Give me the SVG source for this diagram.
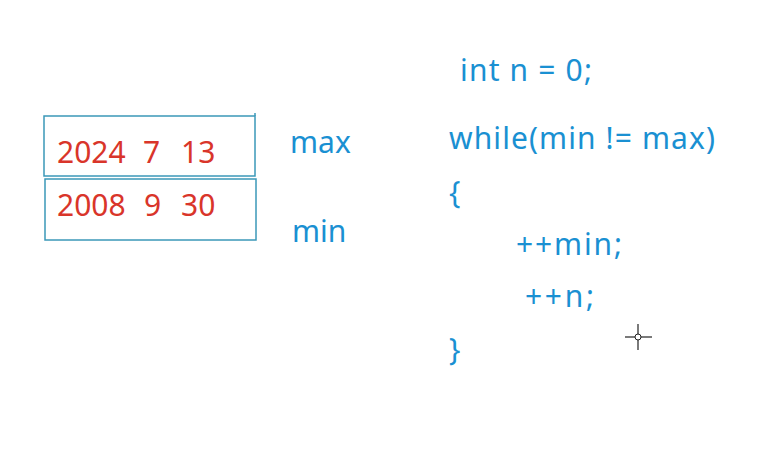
<svg xmlns="http://www.w3.org/2000/svg" width="782" height="456" viewBox="0 0 782 456">
<style>
.box{fill:none;stroke:#3b98b8;stroke-width:1.5}
.red{fill:#d9352a;font-family:"Noto Sans","Open Sans",sans-serif;font-size:30px}
.blue{fill:#1a90d2;font-family:"Noto Sans","Open Sans",sans-serif;font-size:30px}
.cur{stroke:#222;stroke-width:1.2;fill:none}
</style>
<rect width="782" height="456" fill="#ffffff"/>
<g id="max-box">
<rect class="box" x="44" y="116" width="211" height="60"/>
<line class="box" x1="255" y1="113" x2="255" y2="116"/>
<text class="red" x="57" y="163">2024</text>
<text class="red" x="143" y="163">7</text>
<text class="red" x="181" y="163">13</text>
</g>
<g id="min-box">
<rect class="box" x="45" y="179" width="211" height="61"/>
<text class="red" x="57" y="216">2008</text>
<text class="red" x="144" y="216">9</text>
<text class="red" x="181" y="216">30</text>
</g>
<g id="labels">
<text class="blue" x="290" y="153">max</text>
<text class="blue" x="292" y="242">min</text>
</g>
<g id="code">
<text class="blue" x="460" y="81" textLength="132" lengthAdjust="spacing">int n = 0;</text>
<text class="blue" x="449" y="149" textLength="266" lengthAdjust="spacing">while(min != max)</text>
<text class="blue" x="449" y="203">{</text>
<text class="blue" x="516" y="255" textLength="106" lengthAdjust="spacing">++min;</text>
<text class="blue" x="525" y="307" textLength="69" lengthAdjust="spacing">++n;</text>
<text class="blue" x="449" y="360">}</text>
</g>
<g id="cursor">
<line class="cur" x1="625" y1="337" x2="652" y2="337"/>
<line class="cur" x1="638" y1="324" x2="638" y2="350"/>
<circle cx="638" cy="337" r="3" fill="#fff" stroke="#222" stroke-width="1"/>
</g>
</svg>
